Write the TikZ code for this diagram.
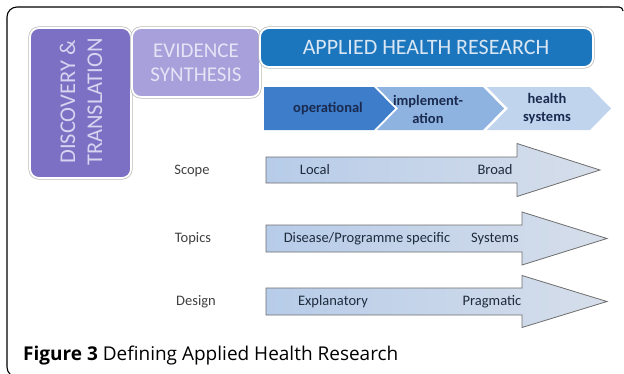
\documentclass[tikz,border=0pt]{standalone}
\usepackage{fontspec}
\setmainfont{Carlito}
\newfontfamily\capfont{Open Sans}
\definecolor{discfill}{HTML}{7B70C4}
\definecolor{disctext}{HTML}{D8D3F0}
\definecolor{evifill}{HTML}{A8A0DA}
\definecolor{evitext}{HTML}{E6E3F6}
\definecolor{appfill}{HTML}{1C76BD}
\definecolor{apptext}{HTML}{D9E6F4}
\definecolor{opfill}{HTML}{3D7DCA}
\definecolor{impfill}{HTML}{8EB3E0}
\definecolor{hsfill}{HTML}{C0D4EE}
\definecolor{chevtext}{HTML}{1A2A4F}
\definecolor{arrowleft}{HTML}{B7CCE9}
\definecolor{arrowright}{HTML}{D6DEEA}
\definecolor{arrowline}{HTML}{6E6E6E}
\definecolor{labeltext}{HTML}{404040}
\definecolor{arrowtext}{HTML}{1E2B3C}
\begin{document}
\begin{tikzpicture}[x=1pt,y=-1pt]
\tikzset{
  rim/.style={rounded corners=9pt, draw=black!28, line width=3.2pt},
  panel/.style={rounded corners=9pt, draw=white, line width=1.8pt},
  chev/.style={draw=none},
  chevlabel/.style={font=\fontsize{14.5}{18}\selectfont\bfseries, text=chevtext, align=center, inner sep=0pt},
  bigarrow/.style={draw=arrowline, line width=0.8pt, left color=arrowleft, right color=arrowright},
  rowlabel/.style={font=\fontsize{14.5}{16}\selectfont, text=labeltext, inner sep=0pt},
  arrowlabel/.style={font=\fontsize{14.5}{16}\selectfont, text=arrowtext, inner sep=0pt},
}
\useasboundingbox (0,0) rectangle (624,373);
% outer frame
\draw[line width=1.1pt, rounded corners=10pt] (640,377) -- (7,377) -- (7,7) -- (600,7);
\draw[line width=1.1pt] (600,7) -- (619,7) arc[start angle=90, end angle=0, radius=4pt];
% boxes
\path[rim] (30,28) rectangle (131,178);
\path[panel, fill=discfill] (30,28) rectangle (131,178);
\path[rim] (132,28) rectangle (260,97);
\path[panel, fill=evifill] (132,28) rectangle (260,97);
\path[rim] (260,28) rectangle (593,67);
\path[panel, fill=appfill] (260,28) rectangle (593,67);
\node[rotate=90, align=center, text=disctext, font=\fontsize{22.5}{27}\selectfont, inner sep=0pt] (disc) at (81,102) {DISCOVERY \&\\TRANSLATION};
\node[align=center, text=evitext, font=\fontsize{21}{24}\selectfont, inner sep=0pt] (evi) at (196,63) {EVIDENCE\\SYNTHESIS};
\node[text=apptext, font=\fontsize{22}{24}\selectfont, inner sep=0pt] (app) at (426,47) {APPLIED HEALTH RESEARCH};
% chevrons
\path[chev, fill=opfill] (264,87) -- (374,87) -- (395,108.5) -- (374,130) -- (264,130) -- cycle;
\path[chev, fill=impfill] (377,87) -- (483,87) -- (504,108.5) -- (483,130) -- (377,130) -- (398,108.5) -- cycle;
\path[chev, fill=hsfill] (487,87) -- (590,87) -- (611,108.5) -- (590,130) -- (487,130) -- (508,108.5) -- cycle;
\node[chevlabel] (op) at (328,108.5) {operational};
\node[chevlabel] (imp) at (428,109) {implement-\\ation};
\node[chevlabel] (hs) at (547,109) {health\\systems};
% arrows
\path[bigarrow] (266,157) -- (517,157) -- (517,143.5) -- (600,170) -- (517,196.5) -- (517,183) -- (266,183) -- cycle;
\path[bigarrow] (266,225) -- (522,225) -- (522,212) -- (607,238.5) -- (522,265) -- (522,252) -- (266,252) -- cycle;
\path[bigarrow] (266,288) -- (522,288) -- (522,275.5) -- (607,301.5) -- (522,327.5) -- (522,315) -- (266,315) -- cycle;
% row labels
\node[rowlabel] (scope) at (192,171) {Scope};
\node[rowlabel] (topics) at (193,238.5) {Topics};
\node[rowlabel] (design) at (196,301.5) {Design};
% arrow labels
\node[arrowlabel] (local) at (315,170) {Local};
\node[arrowlabel] (broad) at (495,170) {Broad};
\node[arrowlabel] (disease) at (367,238.5) {Disease/Programme specific};
\node[arrowlabel] (systems) at (495,238.5) {Systems};
\node[arrowlabel] (expl) at (333,301.5) {Explanatory};
\node[arrowlabel] (prag) at (492,301.5) {Pragmatic};
% caption
\node[anchor=base west, inner sep=0pt, font=\capfont\fontsize{19}{22}\selectfont] (cap) at (23,360) {\textbf{Figure 3} Defining Applied Health Research};
\end{tikzpicture}
\end{document}
